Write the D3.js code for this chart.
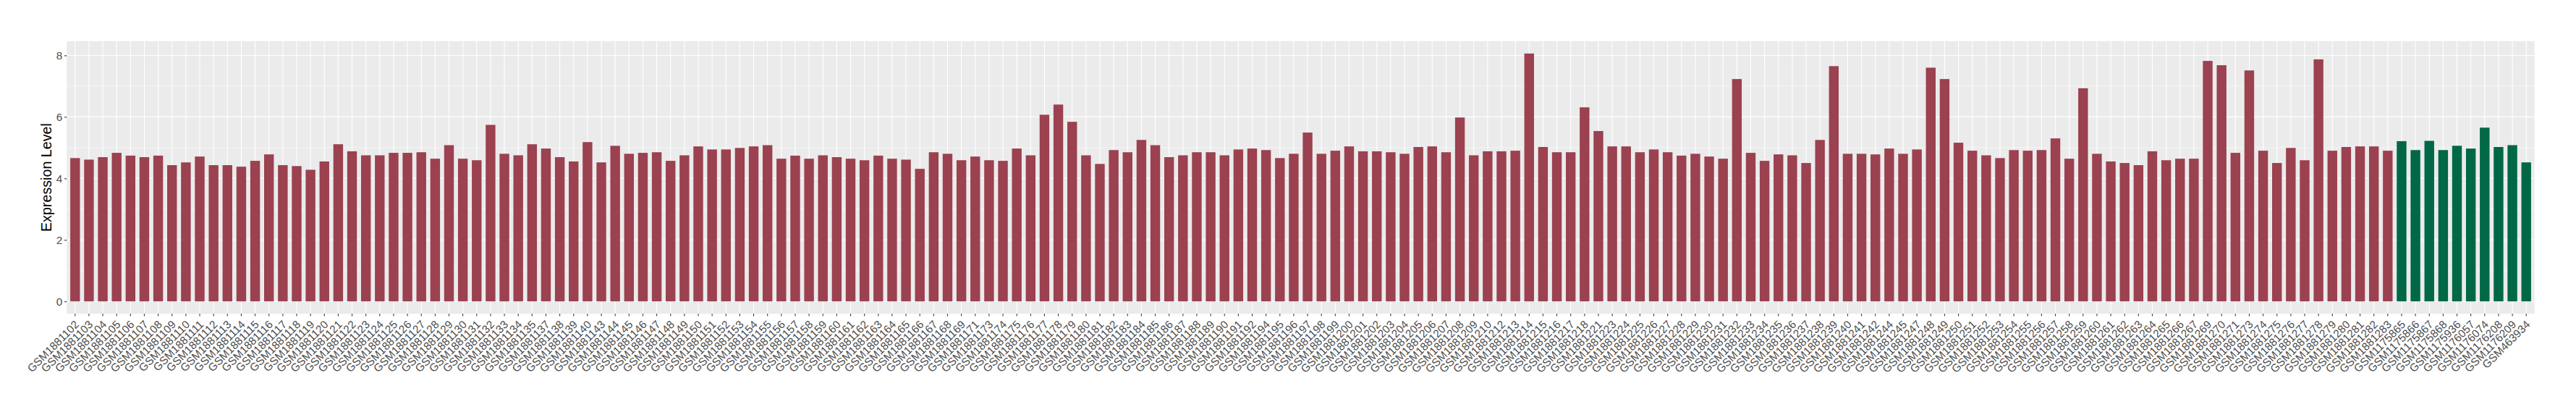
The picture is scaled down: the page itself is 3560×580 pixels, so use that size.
<!DOCTYPE html>
<html>
<head>
<meta charset="utf-8">
<script src="https://cdn.jsdelivr.net/npm/d3@7"></script>
<style>
  body { margin: 0; background: #fff; }
  text { font-family: "Liberation Sans", Arial, sans-serif; }
</style>
</head>
<body>
<div id="chart"></div>
<script>
// Case samples (dark red bars)
const caseSamples = [
  "GSM1881102","GSM1881103","GSM1881104","GSM1881105","GSM1881106","GSM1881107","GSM1881108","GSM1881109",
  "GSM1881110","GSM1881111","GSM1881112","GSM1881113","GSM1881114","GSM1881115","GSM1881116","GSM1881117",
  "GSM1881118","GSM1881119","GSM1881120","GSM1881121","GSM1881122","GSM1881123","GSM1881124","GSM1881125",
  "GSM1881126","GSM1881127","GSM1881128","GSM1881129","GSM1881130","GSM1881131","GSM1881132","GSM1881133",
  "GSM1881134","GSM1881135","GSM1881137","GSM1881138","GSM1881139","GSM1881140","GSM1881143","GSM1881144",
  "GSM1881145","GSM1881146","GSM1881147","GSM1881148","GSM1881149","GSM1881150","GSM1881151","GSM1881152",
  "GSM1881153","GSM1881154","GSM1881155","GSM1881156","GSM1881157","GSM1881158","GSM1881159","GSM1881160",
  "GSM1881161","GSM1881162","GSM1881163","GSM1881164","GSM1881165","GSM1881166","GSM1881167","GSM1881168",
  "GSM1881169","GSM1881171","GSM1881173","GSM1881174","GSM1881175","GSM1881176","GSM1881177","GSM1881178",
  "GSM1881179","GSM1881180","GSM1881181","GSM1881182","GSM1881183","GSM1881184","GSM1881185","GSM1881186",
  "GSM1881187","GSM1881188","GSM1881189","GSM1881190","GSM1881191","GSM1881192","GSM1881194","GSM1881195",
  "GSM1881196","GSM1881197","GSM1881198","GSM1881199","GSM1881200","GSM1881201","GSM1881202","GSM1881203",
  "GSM1881204","GSM1881205","GSM1881206","GSM1881207","GSM1881208","GSM1881209","GSM1881210","GSM1881212",
  "GSM1881213","GSM1881214","GSM1881215","GSM1881216","GSM1881217","GSM1881218","GSM1881221","GSM1881223",
  "GSM1881224","GSM1881225","GSM1881226","GSM1881227","GSM1881228","GSM1881229","GSM1881230","GSM1881231",
  "GSM1881232","GSM1881233","GSM1881234","GSM1881235","GSM1881236","GSM1881237","GSM1881238","GSM1881239",
  "GSM1881240","GSM1881241","GSM1881242","GSM1881244","GSM1881245","GSM1881247","GSM1881248","GSM1881249",
  "GSM1881250","GSM1881251","GSM1881252","GSM1881253","GSM1881254","GSM1881255","GSM1881256","GSM1881257",
  "GSM1881258","GSM1881259","GSM1881260","GSM1881261","GSM1881262","GSM1881263","GSM1881264","GSM1881265",
  "GSM1881266","GSM1881267","GSM1881269","GSM1881270","GSM1881271","GSM1881273","GSM1881274","GSM1881275",
  "GSM1881276","GSM1881277","GSM1881278","GSM1881279","GSM1881280","GSM1881281","GSM1881282","GSM1881283"
];
const caseValues = [
  4.66,4.61,4.69,4.83,4.74,4.69,4.74,4.43,
  4.52,4.71,4.43,4.43,4.38,4.57,4.78,4.43,
  4.40,4.28,4.55,5.11,4.88,4.75,4.75,4.83,
  4.83,4.85,4.64,5.08,4.64,4.59,5.74,4.80,
  4.75,5.11,4.97,4.69,4.55,5.18,4.52,5.06,
  4.80,4.83,4.85,4.57,4.75,5.04,4.94,4.94,
  4.99,5.04,5.08,4.64,4.74,4.64,4.75,4.69,
  4.64,4.59,4.74,4.64,4.61,4.31,4.85,4.80,
  4.59,4.71,4.59,4.57,4.97,4.75,6.07,6.40,
  5.84,4.75,4.47,4.92,4.85,5.25,5.08,4.69,
  4.75,4.85,4.85,4.75,4.94,4.97,4.92,4.66,
  4.80,5.49,4.80,4.90,5.04,4.88,4.88,4.85,
  4.80,5.02,5.04,4.85,5.98,4.75,4.88,4.88,
  4.90,8.06,5.02,4.85,4.85,6.31,5.54,5.04,
  5.04,4.85,4.94,4.85,4.74,4.80,4.71,4.64,
  7.23,4.83,4.57,4.78,4.75,4.50,5.25,7.65,
  4.80,4.80,4.78,4.97,4.80,4.94,7.60,7.23,
  5.16,4.90,4.75,4.66,4.92,4.90,4.92,5.30,
  4.64,6.93,4.80,4.55,4.50,4.43,4.88,4.59,
  4.64,4.64,7.82,7.68,4.83,7.51,4.90,4.50,
  4.99,4.59,7.87,4.90,5.02,5.04,5.04,4.90
];

// Control samples (dark green bars)
const controlSamples = [
  "GSM1175865","GSM1175866","GSM1175867","GSM1175868","GSM1175936",
  "GSM1176057","GSM1176074","GSM1176208","GSM1176209","GSM463934"
];
const controlValues = [5.21,4.92,5.22,4.92,5.06,4.97,5.65,5.02,5.08,4.52];

const yTicks = [0, 2, 4, 6, 8];
const yMinorTicks = [1, 3, 5, 7];
const groupColors = { case: "#9b4150", control: "#006747" };

const data = caseSamples.map((s, i) => ({ sample: s, value: caseValues[i], group: "case" }))
  .concat(controlSamples.map((s, i) => ({ sample: s, value: controlValues[i], group: "control" })));

// Dimensions
const width = 3560;
const height = 580;
const panel = { left: 92.3, right: 3502.7, top: 56.8, bottom: 433.3 };

const svg = d3.select("#chart")
  .append("svg")
    .attr("width", width)
    .attr("height", height);

// Scales (ggplot-like expansion)
const x = d3.scaleBand()
  .domain(data.map(d => d.sample))
  .range([panel.left, panel.right])
  .paddingInner(0.3)
  .paddingOuter(0.25);

const yMax = d3.max(data, d => d.value);
const y = d3.scaleLinear()
  .domain([-0.05 * yMax, 1.05 * yMax])
  .range([panel.bottom, panel.top]);

// Panel background
svg.append("rect")
  .attr("x", panel.left)
  .attr("y", panel.top)
  .attr("width", panel.right - panel.left)
  .attr("height", panel.bottom - panel.top)
  .attr("fill", "#ebebeb");

// Grid lines
const grid = svg.append("g");
grid.selectAll(".minor")
  .data(yMinorTicks)
  .enter().append("line")
    .attr("x1", panel.left).attr("x2", panel.right)
    .attr("y1", d => y(d)).attr("y2", d => y(d))
    .attr("stroke", "#fff")
    .attr("stroke-width", 0.55);

grid.selectAll(".major")
  .data(yTicks)
  .enter().append("line")
    .attr("x1", panel.left).attr("x2", panel.right)
    .attr("y1", d => y(d)).attr("y2", d => y(d))
    .attr("stroke", "#fff")
    .attr("stroke-width", 1.1);

grid.selectAll(".vgrid")
  .data(data)
  .enter().append("line")
    .attr("x1", d => x(d.sample) + x.bandwidth() / 2)
    .attr("x2", d => x(d.sample) + x.bandwidth() / 2)
    .attr("y1", panel.top).attr("y2", panel.bottom)
    .attr("stroke", "#fff")
    .attr("stroke-width", 1.1);

// Bars
svg.append("g")
  .selectAll("rect")
  .data(data)
  .enter().append("rect")
    .attr("x", d => x(d.sample))
    .attr("width", x.bandwidth())
    .attr("y", d => y(d.value))
    .attr("height", d => y(0) - y(d.value))
    .attr("fill", d => groupColors[d.group]);

// Y axis
const yAxis = svg.append("g")
  .attr("transform", `translate(${panel.left},0)`)
  .call(d3.axisLeft(y).tickValues(yTicks).tickSize(3.3).tickPadding(2.8));
yAxis.select(".domain").remove();
yAxis.selectAll("line").attr("stroke", "#333").attr("stroke-width", 1.1);
yAxis.selectAll("text")
  .attr("fill", "#4d4d4d")
  .style("font-size", "15.3px")
  .style("font-family", "'Liberation Sans', Arial, sans-serif");

// X axis
const xAxis = svg.append("g")
  .attr("transform", `translate(0,${panel.bottom})`)
  .call(d3.axisBottom(x).tickSize(3.3));
xAxis.select(".domain").remove();
xAxis.selectAll("line").attr("stroke", "#333").attr("stroke-width", 1.1);
xAxis.selectAll("text")
  .attr("x", 0)
  .attr("y", 0)
  .attr("dy", "0.72em")
  .attr("transform", "translate(-1.5,8) rotate(-45)")
  .attr("text-anchor", "end")
  .attr("fill", "#4d4d4d")
  .style("font-size", "15.3px")
  .style("font-family", "'Liberation Sans', Arial, sans-serif");

// Y axis title
svg.append("text")
  .attr("transform", `translate(70.7,${(panel.top + panel.bottom) / 2}) rotate(-90)`)
  .attr("text-anchor", "middle")
  .style("font-size", "19.7px")
  .attr("fill", "#000")
  .text("Expression Level");
</script>
</body>
</html>
